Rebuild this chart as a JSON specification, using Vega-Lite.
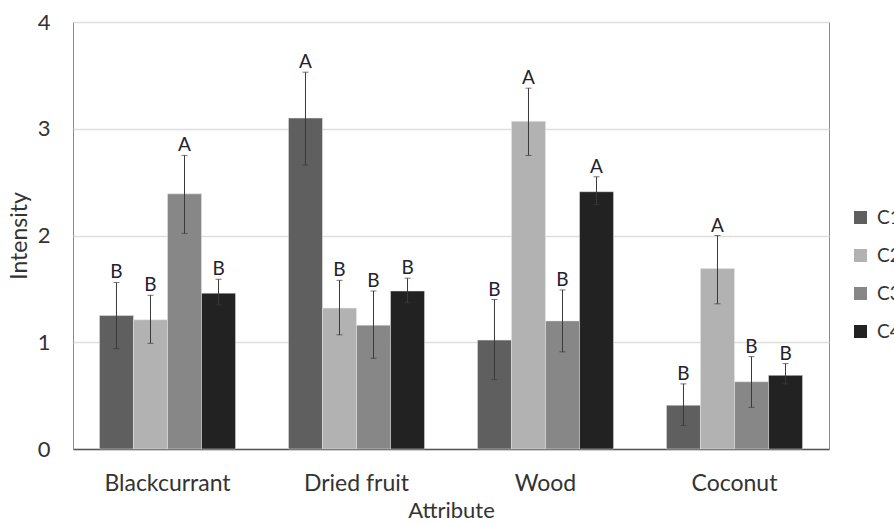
{
  "$schema": "https://vega.github.io/schema/vega-lite/v6.json",
  "width": 756,
  "height": 427,
  "autosize": {"type": "none"},
  "padding": {"left": 73, "top": 22, "right": 65, "bottom": 75},
  "background": "white",
  "config": {
    "font": "Lato",
    "view": {"stroke": "#8a8a8a", "strokeWidth": 1},
    "axis": {"labelFont": "Lato", "titleFont": "Lato", "labelColor": "#333333", "titleColor": "#333333", "titleFontWeight": "normal"}
  },
  "data": {
    "values": [
      {"Attribute": "Blackcurrant", "Cultivar": "C1", "Intensity": 1.25, "lo": 0.94, "hi": 1.56, "Letter": "B"},
      {"Attribute": "Blackcurrant", "Cultivar": "C2", "Intensity": 1.21, "lo": 0.99, "hi": 1.44, "Letter": "B"},
      {"Attribute": "Blackcurrant", "Cultivar": "C3", "Intensity": 2.39, "lo": 2.02, "hi": 2.75, "Letter": "A"},
      {"Attribute": "Blackcurrant", "Cultivar": "C4", "Intensity": 1.46, "lo": 1.35, "hi": 1.59, "Letter": "B"},
      {"Attribute": "Dried fruit", "Cultivar": "C1", "Intensity": 3.10, "lo": 2.66, "hi": 3.53, "Letter": "A"},
      {"Attribute": "Dried fruit", "Cultivar": "C2", "Intensity": 1.32, "lo": 1.07, "hi": 1.58, "Letter": "B"},
      {"Attribute": "Dried fruit", "Cultivar": "C3", "Intensity": 1.16, "lo": 0.85, "hi": 1.48, "Letter": "B"},
      {"Attribute": "Dried fruit", "Cultivar": "C4", "Intensity": 1.48, "lo": 1.37, "hi": 1.60, "Letter": "B"},
      {"Attribute": "Wood", "Cultivar": "C1", "Intensity": 1.02, "lo": 0.65, "hi": 1.40, "Letter": "B"},
      {"Attribute": "Wood", "Cultivar": "C2", "Intensity": 3.07, "lo": 2.75, "hi": 3.38, "Letter": "A"},
      {"Attribute": "Wood", "Cultivar": "C3", "Intensity": 1.20, "lo": 0.91, "hi": 1.49, "Letter": "B"},
      {"Attribute": "Wood", "Cultivar": "C4", "Intensity": 2.41, "lo": 2.29, "hi": 2.55, "Letter": "A"},
      {"Attribute": "Coconut", "Cultivar": "C1", "Intensity": 0.41, "lo": 0.22, "hi": 0.61, "Letter": "B"},
      {"Attribute": "Coconut", "Cultivar": "C2", "Intensity": 1.69, "lo": 1.36, "hi": 2.00, "Letter": "A"},
      {"Attribute": "Coconut", "Cultivar": "C3", "Intensity": 0.63, "lo": 0.39, "hi": 0.865, "Letter": "B"},
      {"Attribute": "Coconut", "Cultivar": "C4", "Intensity": 0.69, "lo": 0.61, "hi": 0.80, "Letter": "B"}
    ]
  },
  "encoding": {
    "x": {
      "field": "Attribute",
      "type": "nominal",
      "sort": ["Blackcurrant", "Dried fruit", "Wood", "Coconut"],
      "scale": {"paddingInner": 0.28, "paddingOuter": 0.14},
      "axis": {"labelAngle": 0, "labelFontSize": 23, "labelPadding": 23, "ticks": false, "domainColor": "#555555", "domainWidth": 1.5, "titleFontSize": 22, "titlePadding": 5, "title": "Attribute"}
    },
    "xOffset": {"field": "Cultivar", "type": "nominal", "scale": {"paddingInner": 0, "paddingOuter": 0}}
  },
  "layer": [
    {
      "mark": {"type": "bar", "stroke": "#e8e8e8", "strokeWidth": 0.5},
      "encoding": {
        "y": {
          "field": "Intensity",
          "type": "quantitative",
          "scale": {"domain": [0, 4]},
          "axis": {"values": [0, 1, 2, 3, 4], "format": "d", "labelFontSize": 22, "labelPadding": 23, "ticks": false, "domain": false, "gridColor": "#dedede", "gridWidth": 1.5, "titleFontSize": 23, "titlePadding": 6, "title": "Intensity"}
        },
        "color": {
          "field": "Cultivar",
          "type": "nominal",
          "scale": {"domain": ["C1", "C2", "C3", "C4"], "range": ["#5f5f5f", "#b2b2b2", "#878787", "#222222"]},
          "legend": {"title": null, "orient": "none", "legendX": 778, "legendY": 186, "symbolType": "square", "symbolSize": 169, "symbolStrokeWidth": 0, "labelFontSize": 19, "labelColor": "#333333", "rowPadding": 18, "labelOffset": 7}
        }
      }
    },
    {
      "mark": {"type": "rule", "color": "#3a3a3a", "strokeWidth": 1},
      "encoding": {"y": {"field": "lo", "type": "quantitative"}, "y2": {"field": "hi"}}
    },
    {
      "mark": {"type": "tick", "color": "#3a3a3a", "thickness": 1, "size": 6},
      "encoding": {"y": {"field": "lo", "type": "quantitative"}}
    },
    {
      "mark": {"type": "tick", "color": "#3a3a3a", "thickness": 1, "size": 6},
      "encoding": {"y": {"field": "hi", "type": "quantitative"}}
    },
    {
      "mark": {"type": "text", "fontSize": 19, "color": "#22222e", "baseline": "alphabetic", "dy": -4},
      "encoding": {"y": {"field": "hi", "type": "quantitative"}, "text": {"field": "Letter"}}
    }
  ]
}
